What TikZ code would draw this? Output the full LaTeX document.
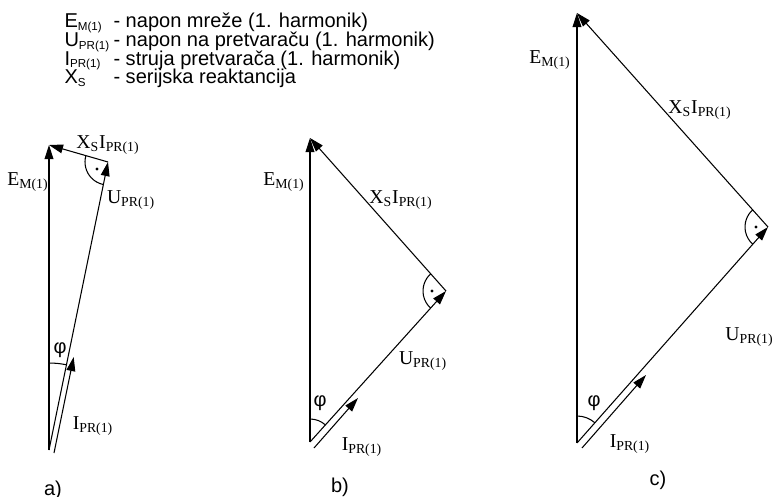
\documentclass[tikz,border=0pt]{standalone}
\usepackage{fontspec}
\setmainfont{Liberation Sans}
\newfontfamily\labelfont{Liberation Serif}
\usetikzlibrary{arrows.meta, angles, calc}
\newcommand{\vsub}[2]{#1\textsubscript{#2}}
\newcommand{\lsub}[2]{#1\raisebox{-0.25ex}{\fontsize{6.6}{7}\selectfont#2}}

\begin{document}
\begin{tikzpicture}[
  x=0.02cm, y=-0.02cm, line width=0.6pt,
  every node/.style={font=\fontsize{11.4}{13}\selectfont, inner sep=0pt},
  vec/.style={-{Triangle[length=8pt,width=5pt]}},
  lbl/.style={font=\fontsize{11.2}{13}\selectfont\labelfont},
  rangle/.style={draw, angle radius=0.46cm},
  dotmark/.style={circle, fill, minimum size=1.8pt}
]
\useasboundingbox (0,0) rectangle (775,497);

% Legend
\node[anchor=base west] (legE) at (64,28) {\lsub{E}{M(1)}};
\node[anchor=base west] (legU) at (64,46.5) {\lsub{U}{PR(1)}};
\node[anchor=base west] (legI) at (64,65) {\lsub{I}{PR(1)}};
\node[anchor=base west] (legX) at (64,83.5) {\lsub{X}{S}};
\node[anchor=base west] (legEtxt) at (113,28) {- napon mreže (1. harmonik)};
\node[anchor=base west] (legUtxt) at (113,46.5) {- napon na pretvaraču (1. harmonik)};
\node[anchor=base west] (legItxt) at (113,65) {- struja pretvarača (1. harmonik)};
\node[anchor=base west] (legXtxt) at (113,83.5) {- serijska reaktancija};

% a)
\coordinate (Oa) at (49,450);
\coordinate (Ea) at (49,145);
\coordinate (Ca) at (108,162);
\coordinate (Ia0) at (54,453);
\coordinate (Ia1) at (73.7,357);
\draw[vec] (Oa) -- (Ea);
\draw[vec] (Oa) -- (Ca);
\draw[vec] (Ca) -- (Ea);
\draw[vec] (Ia0) -- (Ia1);
\pic[draw, angle radius=1.74cm] {angle=Ca--Oa--Ea};
\pic[rangle] {angle=Ea--Ca--Oa};
\node[dotmark] (dota) at (97,169) {};
\node[lbl] (EMa) at (28,182) {\vsub{E}{M(1)}};
\node[lbl] (XSa) at (108,145) {\vsub{X}{S}\vsub{I}{PR(1)}};
\node[lbl] (UPRa) at (131,200) {\vsub{U}{PR(1)}};
\node[lbl] (IPRa) at (93,426) {\vsub{I}{PR(1)}};
\node (phia) at (60,350) {φ};
\node (capa) at (53,490) {a)};

% b)
\coordinate (Ob) at (310,442);
\coordinate (Eb) at (310,138);
\coordinate (Cb) at (446,291);
\coordinate (Ib0) at (314,448);
\coordinate (Ib1) at (358,398);
\draw[vec] (Ob) -- (Eb);
\draw[vec] (Ob) -- (Cb);
\draw[vec] (Cb) -- (Eb);
\draw[vec] (Ib0) -- (Ib1);
\pic[draw, angle radius=0.46cm] {angle=Cb--Ob--Eb};
\pic[rangle] {angle=Eb--Cb--Ob};
\node[dotmark] (dotb) at (432,291) {};
\node[lbl] (EMb) at (284,182) {\vsub{E}{M(1)}};
\node[lbl] (XSb) at (401,200) {\vsub{X}{S}\vsub{I}{PR(1)}};
\node[lbl] (UPRb) at (423,361) {\vsub{U}{PR(1)}};
\node[lbl] (IPRb) at (362,447) {\vsub{I}{PR(1)}};
\node (phib) at (320,403) {φ};
\node (capb) at (340,487) {b)};

% c)
\coordinate (Oc) at (577,443);
\coordinate (Ec) at (577,13);
\coordinate (Cc) at (768,227);
\coordinate (Ic0) at (582,448);
\coordinate (Ic1) at (646,375);
\draw[vec] (Oc) -- (Ec);
\draw[vec] (Oc) -- (Cc);
\draw[vec] (Cc) -- (Ec);
\draw[vec] (Ic0) -- (Ic1);
\pic[draw, angle radius=0.54cm] {angle=Cc--Oc--Ec};
\pic[rangle] {angle=Ec--Cc--Oc};
\node[dotmark] (dotc) at (756,227) {};
\node[lbl] (EMc) at (550,60) {\vsub{E}{M(1)}};
\node[lbl] (XSc) at (700,110) {\vsub{X}{S}\vsub{I}{PR(1)}};
\node[lbl, anchor=east] (UPRc) at (774,337) {\vsub{U}{PR(1)}};
\node[lbl] (IPRc) at (630,444) {\vsub{I}{PR(1)}};
\node (phic) at (594,403) {φ};
\node (capc) at (658,480) {c)};
\end{tikzpicture}
\end{document}
